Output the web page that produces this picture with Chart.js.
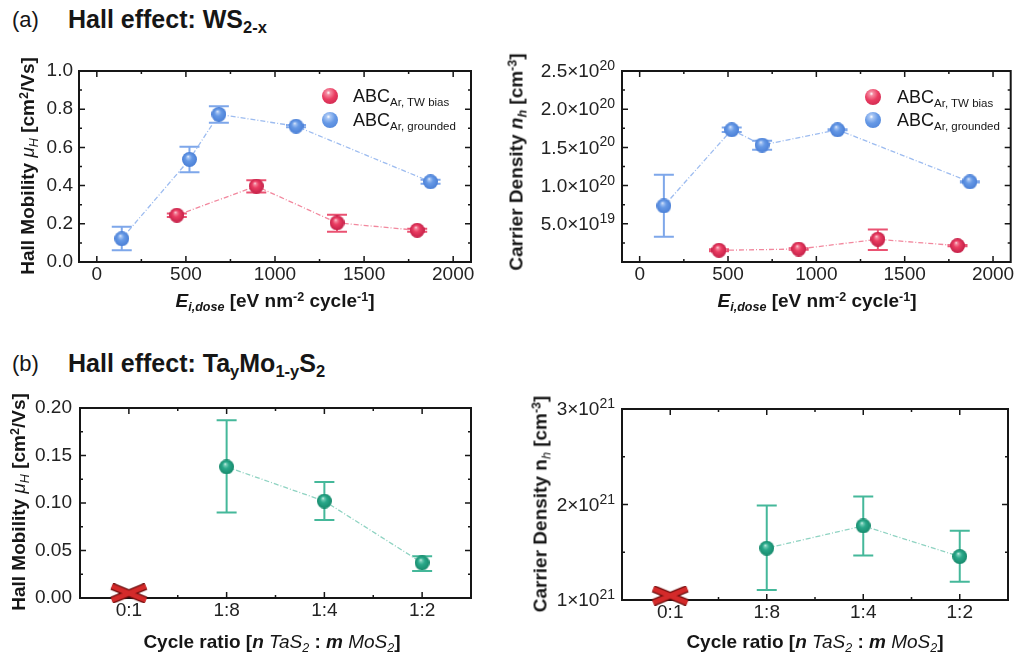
<!DOCTYPE html>
<html>
<head>
<meta charset="utf-8">
<script src="https://cdn.jsdelivr.net/npm/chart.js@4.4.1/dist/chart.umd.min.js"></script>
<style>
body{margin:0;background:#fff;width:1019px;height:659px;position:relative;overflow:hidden;font-family:"Liberation Sans",Arial,sans-serif;color:#161616;}
canvas{position:absolute;}
.t{position:absolute;white-space:nowrap;line-height:1;z-index:2;}
.b{font-weight:bold;}
.c{transform:translate(-50%,-50%);}
.r{transform:translate(-50%,-50%) rotate(-90deg);}
.sub{font-size:0.66em;position:relative;top:0.3em;line-height:0;}
.sup{font-size:0.66em;position:relative;top:-0.45em;line-height:0;}
.n{font-weight:normal;}
.lg{position:absolute;z-index:2;line-height:1;font-size:18px;white-space:nowrap;}
.lg .sub{font-size:11.5px;top:4px;}
.ball{position:absolute;width:16px;height:16px;border-radius:50%;}
</style>
</head>
<body>

<div class="t" style="left:12px;top:9px;font-size:22px">(a)</div>
<div class="t b" style="left:68px;top:7px;font-size:25px">Hall effect: WS<span class="sub">2-x</span></div>
<div class="t" style="left:12px;top:353px;font-size:22px">(b)</div>
<div class="t b" style="left:68px;top:351px;font-size:25px">Hall effect: Ta<span class="sub">y</span>Mo<span class="sub">1-y</span>S<span class="sub">2</span></div>

<!-- axis titles -->
<div class="t b r" style="left:27px;top:166px;font-size:19px">Hall Mobility <i class="n">μ<span class="sub">H</span></i> [cm<span class="sup">2</span>/Vs]</div>
<div class="t b c" style="left:275px;top:300px;font-size:19px"><i>E<span class="sub">i,dose</span></i> [eV nm<span class="sup">-2</span> cycle<span class="sup">-1</span>]</div>
<div class="t b r" style="left:516px;top:162px;font-size:19px">Carrier Density <i>n<span class="sub">h</span></i> [cm<span class="sup">-3</span>]</div>
<div class="t b c" style="left:817px;top:300px;font-size:19px"><i>E<span class="sub">i,dose</span></i> [eV nm<span class="sup">-2</span> cycle<span class="sup">-1</span>]</div>
<div class="t b r" style="left:18px;top:502px;font-size:19px">Hall Mobility <i class="n">μ<span class="sub">H</span></i> [cm<span class="sup">2</span>/Vs]</div>
<div class="t b c" style="left:272px;top:641px;font-size:19px">Cycle ratio [<i>n</i> <i class="n">TaS<span class="sub">2</span></i> : <i>m</i> <i class="n">MoS<span class="sub">2</span></i>]</div>
<div class="t b r" style="left:540px;top:504px;font-size:19px">Carrier Density n<i class="n"><span class="sub">h</span></i> [cm<span class="sup">-3</span>]</div>
<div class="t b c" style="left:815px;top:641px;font-size:19px">Cycle ratio [<i>n</i> <i class="n">TaS<span class="sub">2</span></i> : <i>m</i> <i class="n">MoS<span class="sub">2</span></i>]</div>

<!-- legends -->
<div class="ball" style="left:322px;top:88px;background:radial-gradient(circle at 40% 30%,#fff 0%,#f48aa0 14%,#ea3d62 45%,#c42048 100%)"></div>
<div class="lg" style="left:353px;top:87px">ABC<span class="sub">Ar, TW bias</span></div>
<div class="ball" style="left:322px;top:112px;background:radial-gradient(circle at 40% 30%,#fff 0%,#a8c6f4 14%,#6699e6 45%,#4a7fd6 100%)"></div>
<div class="lg" style="left:353px;top:111px">ABC<span class="sub">Ar, grounded</span></div>
<div class="ball" style="left:865px;top:89px;background:radial-gradient(circle at 40% 30%,#fff 0%,#f48aa0 14%,#ea3d62 45%,#c42048 100%)"></div>
<div class="lg" style="left:897px;top:88px">ABC<span class="sub">Ar, TW bias</span></div>
<div class="ball" style="left:865px;top:112px;background:radial-gradient(circle at 40% 30%,#fff 0%,#a8c6f4 14%,#6699e6 45%,#4a7fd6 100%)"></div>
<div class="lg" style="left:897px;top:111px">ABC<span class="sub">Ar, grounded</span></div>

<canvas id="cA1" width="490" height="262" style="left:0;top:40px"></canvas>
<canvas id="cA2" width="519" height="262" style="left:500px;top:40px"></canvas>
<canvas id="cB1" width="490" height="262" style="left:0;top:380px"></canvas>
<canvas id="cB2" width="519" height="262" style="left:500px;top:380px"></canvas>

<script>
// ====== Data ======
const doseTicks = [0, 500, 1000, 1500, 2000];
const mobTicks = [0, 0.2, 0.4, 0.6, 0.8, 1.0];
const densTicks = [5e19, 1e20, 1.5e20, 2e20, 2.5e20];
const ratios = ['0:1', '1:8', '1:4', '1:2'];
const ratioMobTicks = [0, 0.05, 0.10, 0.15, 0.20];
const ratioDensTicks = [1e21, 2e21, 3e21];

// (a) mobility
const twDoseMob = [449, 895, 1348, 1798];
const twMob   = [0.245, 0.397, 0.205, 0.166];
const twMobLo = [0.236, 0.364, 0.159, 0.158];
const twMobHi = [0.254, 0.428, 0.248, 0.174];

const gdDoseMob = [140, 520, 685, 1118, 1873];
const gdMob   = [0.122, 0.537, 0.773, 0.711, 0.420];
const gdMobLo = [0.062, 0.470, 0.729, 0.705, 0.410];
const gdMobHi = [0.184, 0.603, 0.816, 0.717, 0.430];

// (a) carrier density
const twDoseDens = [449, 900, 1348, 1799];
const twDens   = [0.153e20, 0.170e20, 0.297e20, 0.214e20];
const twDensLo = [0.140e20, 0.160e20, 0.157e20, 0.205e20];
const twDensHi = [0.166e20, 0.180e20, 0.424e20, 0.223e20];

const gdDoseDens = [137, 521, 693, 1120, 1869];
const gdDens   = [0.734e20, 1.731e20, 1.530e20, 1.731e20, 1.049e20];
const gdDensLo = [0.332e20, 1.700e20, 1.469e20, 1.725e20, 1.040e20];
const gdDensHi = [1.141e20, 1.762e20, 1.587e20, 1.737e20, 1.058e20];

// (b) TaMoS2, 0:1 could not be measured (red cross)
const taMob   = [null, 0.138, 0.102, 0.037];
const taMobLo = [null, 0.090, 0.082, 0.0285];
const taMobHi = [null, 0.187, 0.122, 0.044];
const taDens   = [null, 1.542e21, 1.776e21, 1.455e21];
const taDensLo = [null, 1.105e21, 1.465e21, 1.192e21];
const taDensHi = [null, 1.990e21, 2.084e21, 1.724e21];
const failMob = [0.005];
const failDens = [1.045e21];

// ====== Markers ======
const FONT = "'Liberation Sans', Arial, sans-serif";
function sphere(base, light, dark, d){
  const c = document.createElement('canvas'); c.width = c.height = d;
  const g = c.getContext('2d');
  const gr = g.createRadialGradient(d*0.4, d*0.3, 0, d*0.5, d*0.5, d*0.5);
  gr.addColorStop(0, '#ffffff'); gr.addColorStop(0.14, light); gr.addColorStop(0.45, base); gr.addColorStop(1, dark);
  g.fillStyle = gr; g.beginPath(); g.arc(d/2, d/2, d/2, 0, Math.PI*2); g.fill();
  return c;
}
function cross(){
  const c = document.createElement('canvas'); c.width = 40; c.height = 20;
  const g = c.getContext('2d');
  const path = () => { g.beginPath(); g.moveTo(3,3); g.lineTo(37,17); g.moveTo(3,17); g.lineTo(37,3); };
  path(); g.strokeStyle = '#6e0d0d'; g.lineWidth = 7.5; g.stroke();
  path(); g.strokeStyle = '#d42a2a'; g.lineWidth = 5; g.stroke();
  return c;
}
const redBall = sphere('#ea3d62', '#f48aa0', '#c42048', 15);
const blueBall = sphere('#6699e6', '#a8c6f4', '#4a7fd6', 15);
const greenBall = sphere('#2aa88a', '#7ad0ba', '#178a6c', 15);
const redX = cross();

// ====== Plugins ======
const errorBars = {
  id: 'errorBars',
  beforeDatasetsDraw(chart){
    const ctx = chart.ctx, ys = chart.scales.y;
    chart.data.datasets.forEach((ds, i) => {
      if(!ds.errLo) return;
      const meta = chart.getDatasetMeta(i);
      ctx.save(); ctx.strokeStyle = ds.errColor; ctx.lineWidth = 2;
      meta.data.forEach((pt, j) => {
        const lo = ds.errLo[j], hi = ds.errHi[j];
        if(lo == null) return;
        const x = pt.x, y1 = ys.getPixelForValue(lo), y2 = ys.getPixelForValue(hi);
        ctx.beginPath();
        ctx.moveTo(x, y1); ctx.lineTo(x, y2);
        ctx.moveTo(x-10, y1); ctx.lineTo(x+10, y1);
        ctx.moveTo(x-10, y2); ctx.lineTo(x+10, y2);
        ctx.stroke();
      });
      ctx.restore();
    });
  }
};

const mids = a => a.slice(1).map((v, i) => (v + a[i]) / 2);

const frame = {
  id: 'frame',
  beforeDatasetsDraw(chart, args, o){
    const {ctx, chartArea: a} = chart, xs = chart.scales.x, ys = chart.scales.y;
    ctx.save(); ctx.strokeStyle = '#161616'; ctx.lineWidth = 1.5;
    ctx.beginPath();
    const tx = (v, len) => { if(v <= xs.min || v >= xs.max) return; const p = xs.getPixelForValue(v);
      ctx.moveTo(p, a.bottom); ctx.lineTo(p, a.bottom - len); ctx.moveTo(p, a.top); ctx.lineTo(p, a.top + len); };
    const ty = (v, len) => { if(v <= ys.min || v >= ys.max) return; const p = ys.getPixelForValue(v);
      ctx.moveTo(a.left, p); ctx.lineTo(a.left + len, p); ctx.moveTo(a.right, p); ctx.lineTo(a.right - len, p); };
    o.xMajor.forEach(v => tx(v, 6)); mids(o.xMajor).forEach(v => tx(v, 3));
    o.yMajor.forEach(v => ty(v, 6)); mids(o.yMajor).forEach(v => ty(v, 3));
    ctx.stroke();
    ctx.lineWidth = 2;
    ctx.strokeRect(a.left, a.top, a.right - a.left, a.bottom - a.top);
    ctx.restore();
  }
};

// y tick labels written as m×10^e with a raised exponent
const sciLabels = {
  id: 'sciLabels',
  afterDraw(chart, args, o){
    if(!o.ticks) return;
    const ctx = chart.ctx, ys = chart.scales.y, a = chart.chartArea;
    ctx.save(); ctx.fillStyle = '#222'; ctx.textAlign = 'right';
    o.ticks.forEach(v => {
      const e = Math.floor(Math.log10(v) + 1e-9);
      const m = (v / Math.pow(10, e)).toFixed(o.digits);
      const y = ys.getPixelForValue(v);
      let x = a.left - 7;
      ctx.font = '14px ' + FONT; ctx.textBaseline = 'alphabetic';
      ctx.fillText(String(e), x, y - 1);
      x -= ctx.measureText(String(e)).width;
      ctx.font = '19px ' + FONT; ctx.textBaseline = 'middle';
      ctx.fillText(m + '×10', x, y + 1);
    });
    ctx.restore();
  }
};

// ====== Chart builder ======
function line(data, lo, hi, xs, ball, lineColor, errColor){
  return {
    data: data.map((v, i) => ({ x: xs ? xs[i] : i, y: v })),
    errLo: lo, errHi: hi, errColor,
    borderColor: lineColor, borderWidth: 1.3, borderDash: [5, 2, 1, 2],
    pointStyle: ball, pointRadius: 7, spanGaps: false, clip: false
  };
}
function failMark(vals){
  return { data: vals.map(v => ({ x: 0, y: v })), showLine: false, pointStyle: redX, pointRadius: 10, clip: false };
}

function panel(id, p){
  const tickFont = { family: FONT, size: 19 };
  return new Chart(document.getElementById(id), {
    type: 'line',
    data: { datasets: p.datasets },
    options: {
      responsive: false, animation: false, devicePixelRatio: 1,
      layout: { padding: p.padding },
      plugins: {
        legend: { display: false }, tooltip: { enabled: false },
        frame: { xMajor: p.xFrame, yMajor: p.yFrame },
        sciLabels: { ticks: p.sci, digits: p.digits }
      },
      scales: {
        x: {
          type: 'linear', min: p.xMin, max: p.xMax,
          grid: { display: false, drawTicks: false }, border: { display: false },
          afterBuildTicks: s => { s.ticks = p.xTicks.map(v => ({ value: v })); },
          afterFit: s => { s.height = p.xHeight; },
          ticks: { font: tickFont, color: '#222', padding: 1, maxRotation: 0, autoSkip: false, callback: p.xFmt }
        },
        y: {
          type: 'linear', min: p.yMin, max: p.yMax,
          grid: { display: false, drawTicks: false }, border: { display: false },
          afterBuildTicks: s => { s.ticks = p.yTicks.map(v => ({ value: v })); },
          afterFit: s => { s.width = p.yWidth; },
          ticks: { display: !p.sci, font: tickFont, color: '#222', padding: p.yPad || 6, autoSkip: false, callback: p.yFmt }
        }
      }
    },
    plugins: [frame, errorBars, sciLabels]
  });
}

// ====== Panels ======
panel('cA1', {
  padding: { top: 31, right: 19 }, yWidth: 79, xHeight: 40, yPad: 6,
  xMin: -100, xMax: 2100, xTicks: doseTicks, xFrame: doseTicks, xFmt: v => String(v),
  yMin: 0, yMax: 1.0, yTicks: mobTicks, yFrame: mobTicks, yFmt: v => v.toFixed(1),
  datasets: [
    line(gdMob, gdMobLo, gdMobHi, gdDoseMob, blueBall, '#9dbcf0', '#7ea7ea'),
    line(twMob, twMobLo, twMobHi, twDoseMob, redBall, '#f2889e', '#ea5272')
  ]
});

panel('cA2', {
  padding: { top: 31, right: 6 }, yWidth: 122, xHeight: 40,
  xMin: -100, xMax: 2100, xTicks: doseTicks, xFrame: doseTicks, xFmt: v => String(v),
  yMin: 0, yMax: 2.5e20, yTicks: densTicks, yFrame: [0].concat(densTicks), sci: densTicks, digits: 1,
  datasets: [
    line(gdDens, gdDensLo, gdDensHi, gdDoseDens, blueBall, '#9dbcf0', '#7ea7ea'),
    line(twDens, twDensLo, twDensHi, twDoseDens, redBall, '#f2889e', '#ea5272')
  ]
});

const ratioIdx = ratios.map((r, i) => i);
panel('cB1', {
  padding: { top: 28, right: 19 }, yWidth: 80, xHeight: 44, yPad: 8,
  xMin: -0.5, xMax: 3.5, xTicks: ratioIdx, xFrame: ratioIdx, xFmt: v => ratios[v],
  yMin: 0, yMax: 0.2, yTicks: ratioMobTicks, yFrame: ratioMobTicks, yFmt: v => v.toFixed(2),
  datasets: [
    line(taMob, taMobLo, taMobHi, null, greenBall, '#8fd3c2', '#45b89a'),
    failMark(failMob)
  ]
});

panel('cB2', {
  padding: { top: 29, right: 6 }, yWidth: 122, xHeight: 42,
  xMin: -0.5, xMax: 3.5, xTicks: ratioIdx, xFrame: ratioIdx, xFmt: v => ratios[v],
  yMin: 1e21, yMax: 3e21, yTicks: ratioDensTicks, yFrame: ratioDensTicks, sci: ratioDensTicks, digits: 0,
  datasets: [
    line(taDens, taDensLo, taDensHi, null, greenBall, '#8fd3c2', '#45b89a'),
    failMark(failDens)
  ]
});
</script>
</body>
</html>
